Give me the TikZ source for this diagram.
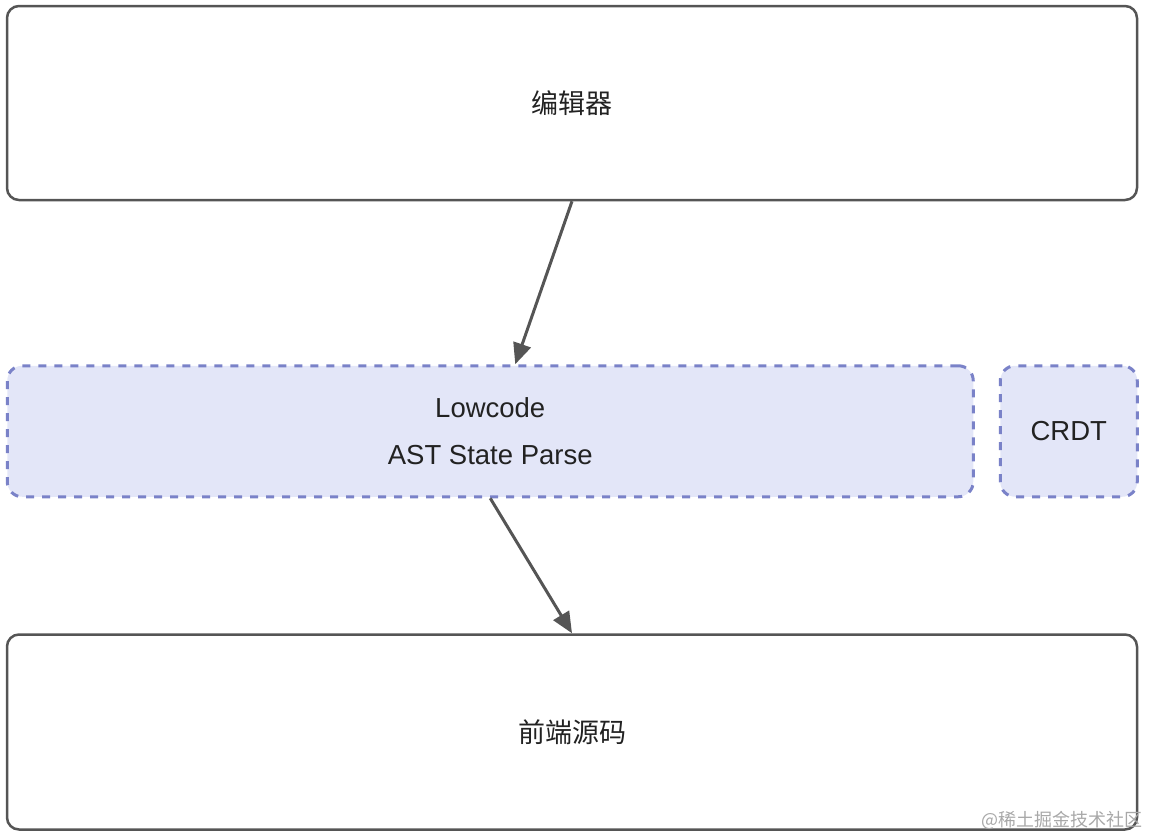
\documentclass[tikz,border=0pt]{standalone}
\usepackage{fontspec}
\setmainfont{Liberation Sans}
\newfontfamily\cjk{Noto Sans CJK SC}
\usetikzlibrary{positioning, arrows.meta}
\definecolor{linegray}{HTML}{555555}
\definecolor{dashblue}{HTML}{7A82C8}
\definecolor{fillblue}{HTML}{E3E6F8}
\definecolor{markgray}{HTML}{A8A8A8}
\definecolor{textdark}{HTML}{222222}

\begin{document}
\begin{tikzpicture}[x=1pt, y=-1pt,
	box/.style={rectangle, draw=linegray, line width=2.5pt, rounded corners=12pt, inner sep=0pt, minimum width=1130pt},
	dashbox/.style={rectangle, draw=dashblue, fill=fillblue, line width=3pt, dash pattern=on 8pt off 8pt, rounded corners=15pt, inner sep=0pt, minimum height=131pt},
	arr/.style={draw=linegray, line width=3pt, -{Triangle[length=21pt, width=18pt]}},
	lbl/.style={text=textdark, font=\fontsize{27.5}{47}\selectfont},
	cjklbl/.style={text=textdark, font=\cjk\fontsize{27}{32}\selectfont}]
	\useasboundingbox (0,0) rectangle (1150,836);
	
	% Editor
	\node[box, cjklbl, minimum height=194pt] (editor) at (572,103) {编辑器};
	
	% Lowcode layer and CRDT
	\node[dashbox, lbl, align=center, minimum width=966pt, below right=163pt and 0pt of editor.south west] (lowcode) {Lowcode\\AST State Parse};
	\node[dashbox, lbl, minimum width=137pt, right=24pt of lowcode] (crdt) {CRDT};
	
	% Front-end source
	\node[box, cjklbl, minimum height=195pt, below right=135pt and 0pt of lowcode.south west] (source) {前端源码};
	
	% Connections
	\draw[arr] (editor.south) -- ([xshift=25pt]lowcode.north);
	\draw[arr] (lowcode.south) -- (source.north);
	
	% Watermark
	\node[anchor=south east, inner sep=0pt, text=markgray, font=\cjk\fontsize{18}{18}\selectfont] (mark) at (1143,830) {@稀土掘金技术社区};
\end{tikzpicture}
\end{document}
